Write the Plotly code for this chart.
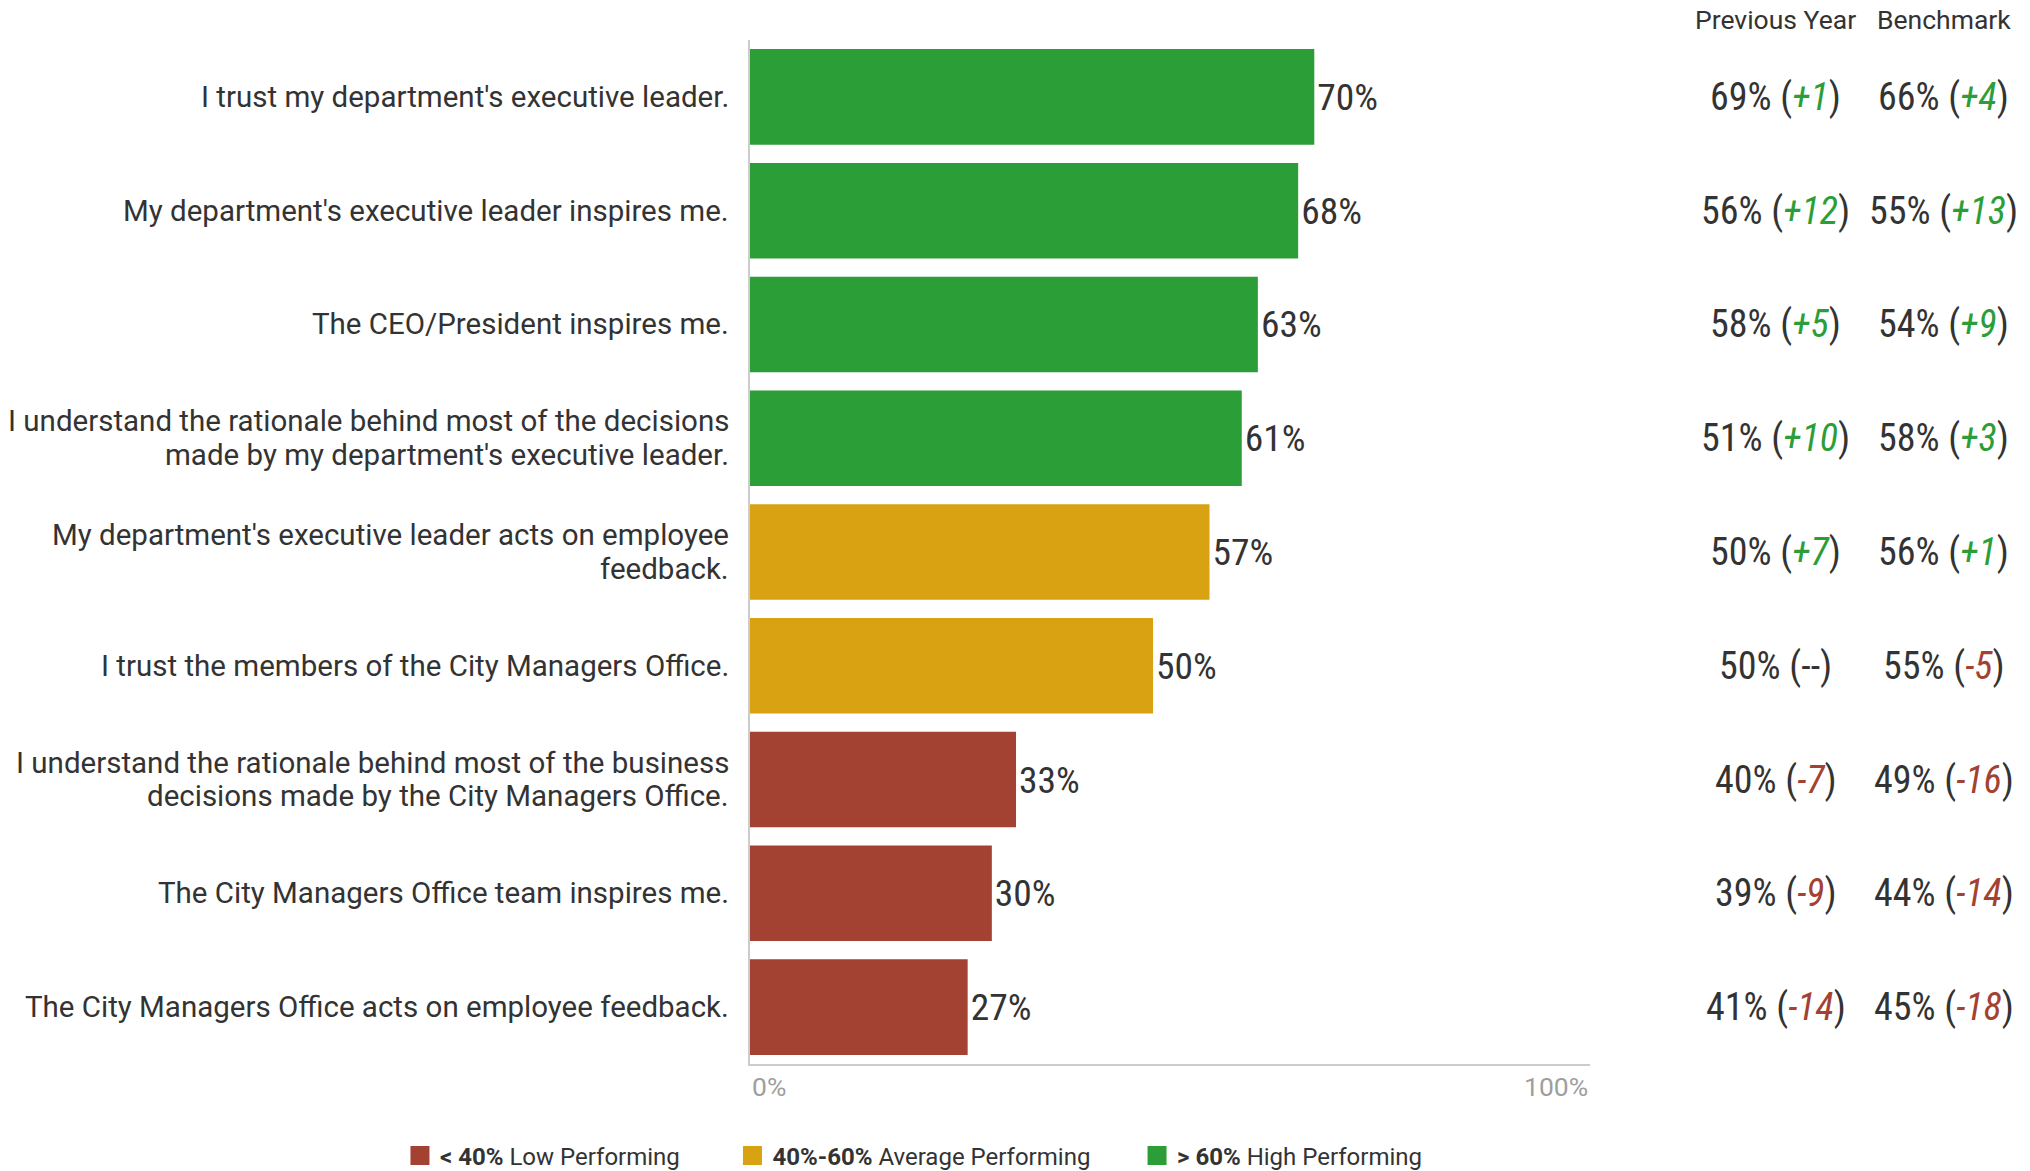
import plotly.graph_objects as go

# Survey items (top to bottom); each entry is the list of display lines
questions = [
    ["I trust my department's executive leader."],
    ["My department's executive leader inspires me."],
    ["The CEO/President inspires me."],
    ["I understand the rationale behind most of the decisions",
     "made by my department's executive leader."],
    ["My department's executive leader acts on employee", "feedback."],
    ["I trust the members of the City Managers Office."],
    ["I understand the rationale behind most of the business",
     "decisions made by the City Managers Office."],
    ["The City Managers Office team inspires me."],
    ["The City Managers Office acts on employee feedback."],
]
scores = [70, 68, 63, 61, 57, 50, 33, 30, 27]
previous_year = [69, 56, 58, 51, 50, 50, 40, 39, 41]
benchmark = [66, 55, 54, 58, 56, 55, 49, 44, 45]

GREEN = "#2c9e38"
GOLD = "#d9a213"
RED = "#a34232"
TEXT = "#333333"
VALUE_FONT = "Roboto Condensed, Liberation Sans Narrow, Roboto, sans-serif"

groups = [
    ("low", "<b>< 40%</b> Low Performing", RED, lambda v: v < 40, 8),
    ("avg", "<b>40%-60%</b> Average Performing", GOLD, lambda v: 40 <= v <= 60, 7),
    ("high", "<b>> 60%</b> High Performing", GREEN, lambda v: v > 60, 0),
]

ids = list(range(len(questions)))

fig = go.Figure()
for key, name, color, test, _ in groups:
    xs = [s for s in scores if test(s)]
    ys = [i for i, s in zip(ids, scores) if test(s)]
    fig.add_trace(go.Bar(
        x=xs, y=ys, orientation="h",
        marker=dict(color=color, line=dict(width=0)),
        texttemplate="%{x}%", textposition="outside",
        textfont=dict(family=VALUE_FONT, size=37.5, color=TEXT),
        cliponaxis=False, showlegend=False, hoverinfo="skip",
    ))

# legend entries with larger square swatches (trailing spaces set item spacing)
for key, name, color, test, npad in groups:
    fig.add_trace(go.Scatter(
        x=[None], y=[None], mode="markers",
        marker=dict(symbol="square", size=16, color=color,
                    line=dict(color=color, width=3)),
        name=name + "\u00a0" * npad, showlegend=True,
    ))


def delta_text(cur, ref):
    d = cur - ref
    if d == 0:
        inner = "--"
    else:
        c = GREEN if d > 0 else RED
        inner = f"<i><span style='color:{c}'>{d:+d}</span></i>"
    return f"{ref}% ({inner})"


annotations = []

# category labels, right-aligned against the axis, one annotation per line
LINE_STEP = 33.7
for i, lines in enumerate(questions):
    n = len(lines)
    for k, line in enumerate(lines):
        annotations.append(dict(
            x=0, y=i, xref="paper", yref="y", text=line, showarrow=False,
            xanchor="right", yanchor="middle", xshift=-19,
            yshift=((n - 1) / 2 - k) * LINE_STEP,
            font=dict(family="Roboto", size=29.5, color=TEXT),
        ))

col_x = [1.2214, 1.4214]
for cx, title in zip(col_x, ["Previous Year", "Benchmark"]):
    annotations.append(dict(
        x=cx, y=1.0205, xref="paper", yref="paper", text=title, showarrow=False,
        xanchor="center", yanchor="middle",
        font=dict(family="Roboto", size=26.5, color=TEXT),
    ))
for i, s in enumerate(scores):
    for cx, ref in zip(col_x, [previous_year[i], benchmark[i]]):
        annotations.append(dict(
            x=cx, y=i, xref="paper", yref="y", text=delta_text(s, ref),
            showarrow=False, xanchor="center", yanchor="middle",
            font=dict(family=VALUE_FONT, size=38, color=TEXT),
        ))

# axis end labels
annotations.append(dict(x=0, y=0, xref="x domain", yref="y domain", text="0%",
                        showarrow=False, xanchor="left", yanchor="top", yshift=-5,
                        font=dict(family="Roboto", size=26.5, color="#9e9e9e")))
annotations.append(dict(x=1, y=0, xref="x domain", yref="y domain", text="100%",
                        showarrow=False, xanchor="right", yanchor="top", yshift=-5,
                        font=dict(family="Roboto", size=26.5, color="#9e9e9e")))

fig.update_layout(
    width=2030, height=1171,
    margin=dict(l=750, r=440, t=40, b=107, autoexpand=False),
    paper_bgcolor="white", plot_bgcolor="white",
    barmode="overlay", bargap=0.16,
    font=dict(family="Roboto", color=TEXT),
    annotations=annotations,
    legend=dict(
        orientation="h", x=-0.4167, xref="paper", xanchor="left",
        y=-0.0898, yref="paper", yanchor="middle",
        font=dict(family="Roboto", size=24, color=TEXT),
        itemclick=False, itemdoubleclick=False,
    ),
    xaxis=dict(
        range=[0, 104.2], showgrid=False, zeroline=False,
        showticklabels=False, ticks="",
        showline=True, linecolor="#cccccc", linewidth=2,
    ),
    yaxis=dict(
        tickvals=ids, range=[len(questions) - 0.5, -0.5],
        showticklabels=False, showgrid=False, zeroline=False, ticks="",
        showline=True, linecolor="#cccccc", linewidth=2,
    ),
)

fig.write_html("out.html")
